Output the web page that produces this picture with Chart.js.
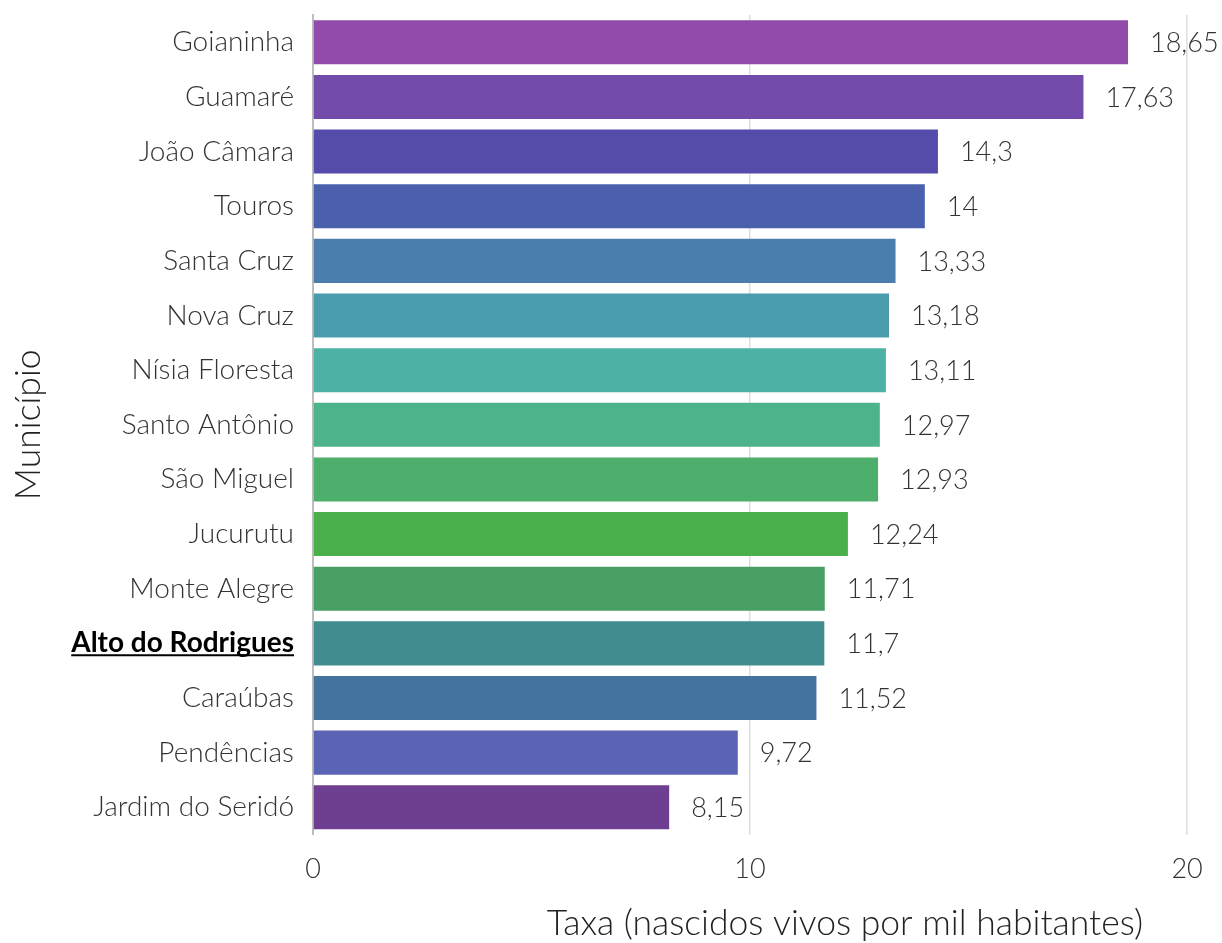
<!DOCTYPE html>
<html>
<head>
<meta charset="utf-8">
<script src="https://cdn.jsdelivr.net/npm/chart.js@4"></script>
<style>
  html, body { margin: 0; padding: 0; background: #fff; }
  #wrap { width: 1222px; height: 943px; }
</style>
</head>
<body>
<div id="wrap"><canvas id="chart-bar"></canvas></div>
<script>
const municipios = ['Goianinha', 'Guamaré', 'João Câmara', 'Touros', 'Santa Cruz', 'Nova Cruz', 'Nísia Floresta',
  'Santo Antônio', 'São Miguel', 'Jucurutu', 'Monte Alegre', 'Alto do Rodrigues', 'Caraúbas', 'Pendências', 'Jardim do Seridó'];
const taxas = [18.65, 17.63, 14.3, 14, 13.33, 13.18, 13.11, 12.97, 12.93, 12.24, 11.71, 11.7, 11.52, 9.72, 8.15];
const xTicks = [0, 10, 20];
const destaque = 'Alto do Rodrigues';
const barColors = ['#914cab', '#734cab', '#544bab', '#4a60ad', '#4a7ead', '#4a9bae', '#4db1a6', '#4db38a',
  '#4daf6b', '#4baf4b', '#479f63', '#408c8f', '#44739f', '#5b63b5', '#6e3e91'];

const FONT = 'Lato, "Noto Sans", sans-serif';
const fmt = v => String(v).replace('.', ',');

// rotulos de valor, sublinhado do destaque e titulo do eixo x
const extras = {
  id: 'extras',
  afterDatasetsDraw(chart) {
    const { ctx } = chart;
    const meta = chart.getDatasetMeta(0);
    ctx.save();
    ctx.font = `300 27px ${FONT}`;
    ctx.fillStyle = '#333';
    ctx.textAlign = 'left';
    ctx.textBaseline = 'middle';
    meta.data.forEach((bar, i) => {
      ctx.fillText(fmt(taxas[i]), bar.x + 22, bar.y + 1);
    });

    const y = chart.scales.y;
    const idx = municipios.indexOf(destaque);
    const py = y.getPixelForTick(idx);
    ctx.font = `bold 28px ${FONT}`;
    const w = ctx.measureText(destaque).width;
    const right = y.right - 19;
    ctx.strokeStyle = '#000';
    ctx.lineWidth = 2;
    ctx.beginPath();
    ctx.moveTo(right - w, py + 12);
    ctx.lineTo(right, py + 12);
    ctx.stroke();

    ctx.font = `300 35.5px ${FONT}`;
    ctx.fillStyle = '#222';
    ctx.textAlign = 'center';
    ctx.fillText('Taxa (nascidos vivos por mil habitantes)', 845, 924);
    ctx.restore();
  }
};

new Chart(document.getElementById('chart-bar'), {
  type: 'bar',
  data: {
    labels: municipios,
    datasets: [{
      data: taxas,
      backgroundColor: barColors,
      barPercentage: 0.806,
      categoryPercentage: 1
    }]
  },
  plugins: [extras],
  options: {
    indexAxis: 'y',
    responsive: true,
    maintainAspectRatio: false,
    animation: false,
    layout: { padding: { top: 15, right: 0, bottom: 40, left: 0 } },
    plugins: {
      legend: { display: false },
      tooltip: { enabled: false }
    },
    scales: {
      x: {
        min: 0,
        max: 20.8,
        afterBuildTicks: scale => { scale.ticks = xTicks.map(v => ({ value: v })); },
        border: { display: false },
        grid: {
          drawTicks: false,
          lineWidth: 1.5,
          color: ctx => ctx.tick && ctx.tick.value === 0 ? 'rgba(0,0,0,0)' : '#dedede'
        },
        ticks: {
          padding: 18,
          color: '#333',
          font: { family: FONT, size: 27, weight: 300 }
        }
      },
      y: {
        afterFit: scale => {
          scale.width = 313;
          scale.paddingTop = 0;
          scale.paddingBottom = 0;
        },
        border: { display: true, color: '#bdbdbd', width: 2 },
        grid: { display: false, drawTicks: false },
        ticks: {
          padding: 19,
          color: ctx => ctx.index === municipios.indexOf(destaque) ? '#000' : '#333',
          font: ctx => ({
            family: FONT,
            size: 28,
            weight: ctx.index === municipios.indexOf(destaque) ? 'bold' : 300
          })
        },
        title: {
          display: true,
          text: 'Município',
          color: '#222',
          padding: { top: 7, bottom: 0 },
          font: { family: FONT, size: 35.5, weight: 300 }
        }
      }
    }
  }
});
</script>
</body>
</html>
